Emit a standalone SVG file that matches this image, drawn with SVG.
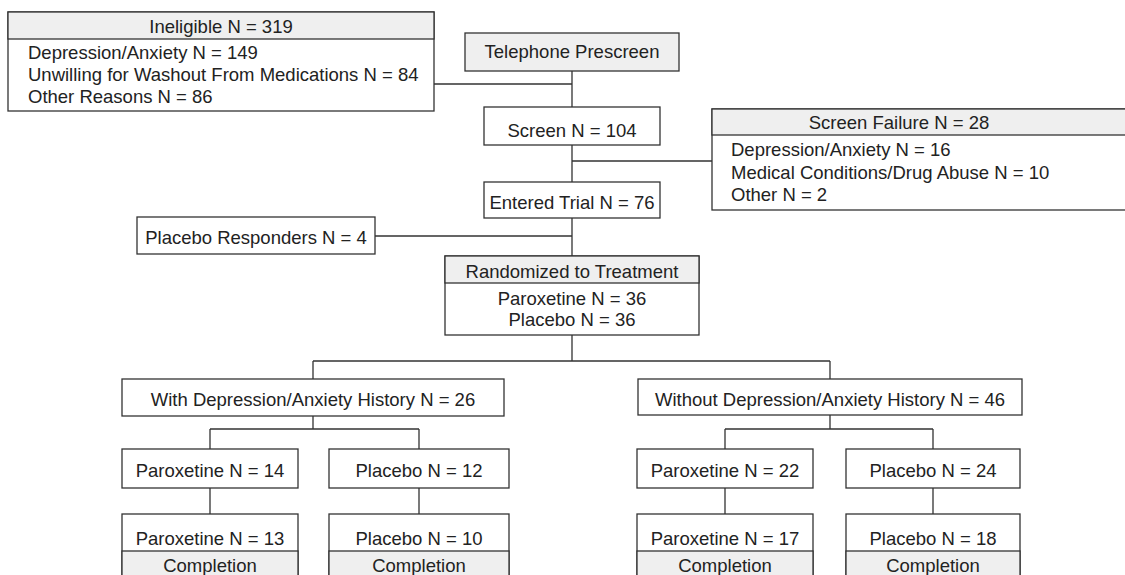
<svg xmlns="http://www.w3.org/2000/svg" width="1125" height="575" viewBox="0 0 1125 575">
<style>
.box{fill:#fff;stroke:#333;stroke-width:1.3}
.hdr{fill:#efefef;stroke:#333;stroke-width:1.3}
.ln{fill:none;stroke:#333;stroke-width:1.3}
text{font-family:"Liberation Sans",Arial,sans-serif;font-size:18.5px;fill:#222}
.c{text-anchor:middle}
</style>
<rect width="1125" height="575" fill="#fff"/>
<g id="connectors">
<path class="ln" d="M572,71V107M434,84H572M572,145V182M572,161H712M572,218V256M375,236H572M572,335V361M313,361H830M313,361V379M830,361V379M313,416V429M210,429H419M210,429V449M419,429V449M830,415V429M725,429H933M725,429V449M933,429V449M210,488V514M419,488V514M725,488V514M933,488V514"/>
</g>
<g id="ineligible">
<rect class="box" x="8" y="12" width="426" height="99"/>
<rect class="hdr" x="8" y="12" width="426" height="27"/>
<text class="c" x="221" y="33">Ineligible N = 319</text>
<text x="28" y="59">Depression/Anxiety N = 149</text>
<text x="28" y="81">Unwilling for Washout From Medications N = 84</text>
<text x="28" y="103">Other Reasons N = 86</text>
</g>
<g id="prescreen">
<rect class="hdr" x="465" y="33" width="214" height="38"/>
<text class="c" x="572" y="58">Telephone Prescreen</text>
</g>
<g id="screen">
<rect class="box" x="484" y="107" width="176" height="38"/>
<text class="c" x="572" y="137">Screen N = 104</text>
</g>
<g id="screenfailure">
<rect class="box" x="712" y="109" width="420" height="101"/>
<rect class="hdr" x="712" y="109" width="420" height="26"/>
<text class="c" x="899" y="129">Screen Failure N = 28</text>
<text x="731" y="156">Depression/Anxiety N = 16</text>
<text x="731" y="179">Medical Conditions/Drug Abuse N = 10</text>
<text x="731" y="201">Other N = 2</text>
</g>
<g id="entered">
<rect class="box" x="484" y="182" width="176" height="36"/>
<text class="c" x="572" y="209">Entered Trial N = 76</text>
</g>
<g id="responders">
<rect class="box" x="137" y="217" width="238" height="37"/>
<text class="c" x="256" y="244">Placebo Responders N = 4</text>
</g>
<g id="randomized">
<rect class="box" x="445" y="256" width="254" height="79"/>
<rect class="hdr" x="445" y="256" width="254" height="27"/>
<text class="c" x="572" y="278">Randomized to Treatment</text>
<text class="c" x="572" y="305">Paroxetine N = 36</text>
<text class="c" x="572" y="326">Placebo N = 36</text>
</g>
<g id="with">
<rect class="box" x="122" y="379" width="382" height="37"/>
<text class="c" x="313" y="406">With Depression/Anxiety History N = 26</text>
</g>
<g id="without">
<rect class="box" x="638" y="379" width="384" height="36"/>
<text class="c" x="830" y="406">Without Depression/Anxiety History N = 46</text>
</g>
<g id="par14">
<rect class="box" x="122" y="449" width="176" height="39"/>
<text class="c" x="210" y="477">Paroxetine N = 14</text>
</g>
<g id="pla12">
<rect class="box" x="329" y="449" width="180" height="39"/>
<text class="c" x="419" y="477">Placebo N = 12</text>
</g>
<g id="par22">
<rect class="box" x="637" y="449" width="176" height="39"/>
<text class="c" x="725" y="477">Paroxetine N = 22</text>
</g>
<g id="pla24">
<rect class="box" x="846" y="449" width="174" height="39"/>
<text class="c" x="933" y="477">Placebo N = 24</text>
</g>
<g id="par13">
<rect class="box" x="122" y="514" width="176" height="70"/>
<rect class="hdr" x="122" y="551" width="176" height="33"/>
<text class="c" x="210" y="545">Paroxetine N = 13</text>
<text class="c" x="210" y="572">Completion</text>
</g>
<g id="pla10">
<rect class="box" x="329" y="514" width="180" height="70"/>
<rect class="hdr" x="329" y="551" width="180" height="33"/>
<text class="c" x="419" y="545">Placebo N = 10</text>
<text class="c" x="419" y="572">Completion</text>
</g>
<g id="par17">
<rect class="box" x="637" y="514" width="176" height="70"/>
<rect class="hdr" x="637" y="551" width="176" height="33"/>
<text class="c" x="725" y="545">Paroxetine N = 17</text>
<text class="c" x="725" y="572">Completion</text>
</g>
<g id="pla18">
<rect class="box" x="846" y="514" width="174" height="70"/>
<rect class="hdr" x="846" y="551" width="174" height="33"/>
<text class="c" x="933" y="545">Placebo N = 18</text>
<text class="c" x="933" y="572">Completion</text>
</g>
</svg>
